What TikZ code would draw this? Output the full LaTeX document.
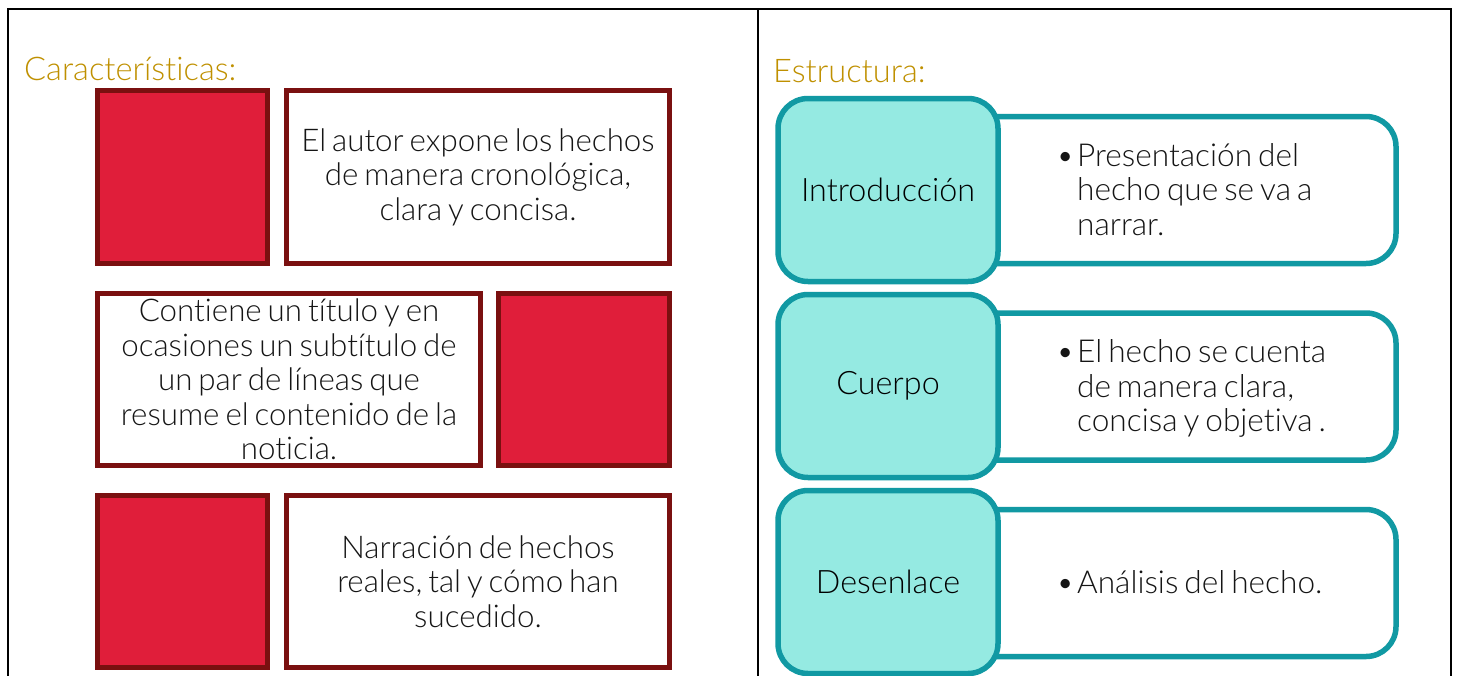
\documentclass[tikz,border=0pt]{standalone}
\usepackage{fontspec}
\IfFontExistsTF{Lato Light}{\setmainfont[Ligatures=NoCommon,WordSpace=0.7]{Lato Light}}{\setmainfont[Ligatures=NoCommon,WordSpace=0.7]{Lato}}
\definecolor{redfill}{HTML}{E01E3A}
\definecolor{redline}{HTML}{7A1010}
\definecolor{tealfill}{HTML}{95EAE2}
\definecolor{tealline}{HTML}{1199A3}
\definecolor{gold}{HTML}{BF9000}
\definecolor{txt}{HTML}{151515}
\newcommand{\bulitem}[1]{\begin{tabular}{@{}l@{}l@{}}\makebox[21pt][l]{•}#1\end{tabular}}
\begin{document}
\begin{tikzpicture}[x=1pt,y=-1pt,
  frame/.style={line width=2pt, black},
  redbox/.style={draw=redline, fill=redfill, line width=5pt, rectangle, inner sep=0pt},
  whitebox/.style={draw=redline, fill=white, line width=5pt, rectangle, inner sep=0pt},
  boxtext/.style={font=\fontsize{31.3}{34.5}\selectfont, text=txt, align=center, inner sep=0pt},
  title/.style={font=\fontsize{32.6}{36}\selectfont, text=gold, anchor=base west, inner sep=0pt},
  tealbox/.style={draw=tealline, fill=tealfill, line width=5.5pt, rectangle, rounded corners=30pt,
     minimum width=220pt, minimum height=183pt, inner sep=0pt, font=\fontsize{32.3}{36}\selectfont, text=black},
  itembox/.style={draw=tealline, fill=white, line width=5.5pt, rectangle, rounded corners=30pt,
     minimum width=433pt, minimum height=147pt, inner sep=0pt},
  itemtext/.style={font=\fontsize{31.6}{34.5}\selectfont, text=txt, anchor=west, inner sep=0pt},
]
\useasboundingbox (0,0) rectangle (1458,675);
% frame
\draw[frame] (8,690) -- (8,9) -- (1451,9) -- (1451,690);
\draw[frame] (758,9) -- (758,690);

% titles
\node[title] (t1) at (24,80) {Características:};
\node[title] (t2) at (773,82) {Estructura:};

% left column
\node[redbox, minimum width=170pt, minimum height=173pt] (r1) at (182.5,177) {};
\node[whitebox, minimum width=383pt, minimum height=173pt] (w1) at (478,177) {};
\node[boxtext] (w1t) at (w1.center) {El autor expone los hechos\\de manera cronológica,\\clara y concisa.};

\node[whitebox, minimum width=383pt, minimum height=172pt] (w2) at (289,379.5) {};
\node[redbox, minimum width=171pt, minimum height=172pt] (r2) at (584,379.5) {};
\node[boxtext] (w2t) at (w2.center) {Contiene un título y en\\ocasiones un subtítulo de\\un par de líneas que\\resume el contenido de la\\noticia.};

\node[redbox, minimum width=170pt, minimum height=172pt] (r3) at (182.5,581.5) {};
\node[whitebox, minimum width=383pt, minimum height=172pt] (w3) at (478,581.5) {};
\node[boxtext] (w3t) at (w3.center) {Narración de hechos\\reales, tal y cómo han\\sucedido.};

% right column
\node[itembox] (i1) at (1179.5,190) {};
\node[tealbox] (s1) at (888,190) {Introducción};
\node[itemtext] (i1t) at (1056,194) {\bulitem{& Presentación del\\ & hecho que se va a\\ & narrar.}};

\node[itembox] (i2) at (1179.5,386.5) {};
\node[tealbox] (s2) at (888,386) {Cuerpo};
\node[itemtext] (i2t) at (1056,390.5) {\bulitem{& El hecho se cuenta\\ & de manera clara,\\ & concisa y objetiva .}};

\node[itembox] (i3) at (1179.5,583) {};
\node[tealbox] (s3) at (888,582) {Desenlace};
\node[itemtext] (i3t) at (1056,587) {\bulitem{& Análisis del hecho.}};
\end{tikzpicture}
\end{document}
